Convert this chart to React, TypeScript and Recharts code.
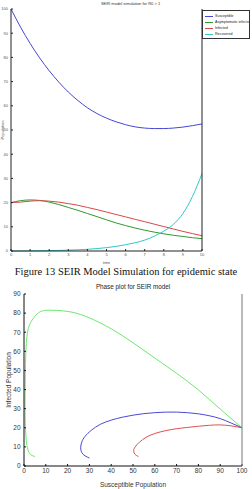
import React from "react";
import { Legend, Line, LineChart, XAxis, YAxis } from "recharts";

// --- time series (top figure) ---
const time = [0, 0.5, 1, 1.5, 2, 2.5, 3, 3.5, 4, 4.5, 5, 5.5, 6, 6.5, 7, 7.5, 8, 8.5, 9, 9.5, 10];
const susceptible = [100, 92.5, 85.8, 79.8, 74.5, 69.8, 65.7, 62.2, 59.2, 56.8, 54.9, 53.4, 52.2, 51.3, 50.8, 50.6, 50.6, 50.8, 51.2, 51.8, 52.5];
const asymptomatic = [20, 20.8, 21.1, 20.9, 20.2, 19.2, 18, 16.8, 15.5, 14.2, 12.9, 11.6, 10.5, 9.5, 8.6, 7.8, 7.1, 6.5, 6, 5.5, 5.1];
const infected = [20, 20.2, 20.6, 20.8, 20.6, 20.2, 19.6, 18.9, 18, 17.1, 16.1, 15.1, 14.1, 13.1, 12.1, 11.1, 10.1, 9.1, 8.1, 7.2, 6.3];
const recovered = [0, 0, 0.05, 0.1, 0.15, 0.25, 0.35, 0.5, 0.7, 1, 1.4, 1.9, 2.6, 3.4, 4.5, 6.1, 8.2, 11, 15.5, 22.5, 32];
const timeTicks = [0, 1, 2, 3, 4, 5, 6, 7, 8, 9, 10];
const popTicks = [0, 10, 20, 30, 40, 50, 60, 70, 80, 90, 100];
const legendOrder = ["Susceptible", "Asymptomatic infected", "Infected", "Recovered"];

// --- phase plot (bottom figure): [S, I] pairs ---
const phaseGreenS = [100, 90, 80, 70, 60, 50, 40, 30, 22, 15, 11, 8, 5.5, 3.5, 2, 1.2, 0.8, 0.6, 0.5, 0.5, 0.7, 1.2, 2, 3.2, 5];
const phaseGreenI = [20, 29.8, 39.8, 48.5, 56.5, 64.5, 71.8, 77.5, 80.5, 81.4, 81.5, 81, 79, 76, 72, 66, 58, 48, 38, 28, 19, 12, 7.8, 5.8, 5];
const phaseBlueS = [100, 95, 90, 85, 80, 75, 70, 65, 60, 55, 50, 45, 40, 35, 31, 28, 26.5, 26, 26.5, 28, 30];
const phaseBlueI = [20, 22.5, 24.8, 26.3, 27.3, 27.9, 28.2, 28.2, 27.9, 27.4, 26.6, 25.5, 24, 21.8, 18.8, 15.5, 12.5, 9.5, 7, 5.3, 4.2];
const phaseRedS = [100, 95, 90, 85, 80, 75, 70, 65, 60, 56, 53, 51, 50.3, 51, 52.5];
const phaseRedI = [20, 21, 21.5, 21.3, 20.8, 20.2, 19.5, 18.5, 17, 15, 12.5, 10, 8, 6, 5];
const sTicks = [0, 10, 20, 30, 40, 50, 60, 70, 80, 90, 100];
const iTicks = [0, 10, 20, 30, 40, 50, 60, 70, 80, 90];

const rows = time.map((t, i) => ({
  t,
  s: susceptible[i],
  a: asymptomatic[i],
  inf: infected[i],
  r: recovered[i],
}));

const toPairs = (s: number[], y: number[]) => s.map((v, i) => ({ s: v, i: y[i] }));
const greenPath = toPairs(phaseGreenS, phaseGreenI);
const bluePath = toPairs(phaseBlueS, phaseBlueI);
const redPath = toPairs(phaseRedS, phaseRedI);

const sans = '"Liberation Sans", Arial, sans-serif';

function LegendBox({ payload }: { payload?: any[] }) {
  // keep the plotting order, not the library's alphabetical one
  const items = [...(payload ?? [])].sort(
    (a, b) => legendOrder.indexOf(a.value) - legendOrder.indexOf(b.value),
  );
  return (
    <div
      style={{
        border: "1px solid #333",
        background: "#fff",
        padding: "2px 1px 1px 2px",
        fontFamily: sans,
        boxSizing: "border-box",
        width: 48,
        overflow: "hidden",
      }}
    >
      {items.map((p) => (
        <div key={p.value} style={{ display: "flex", alignItems: "center", height: 6 }}>
          <span
            style={{
              display: "inline-block",
              width: 8,
              height: 0,
              borderTop: `1px solid ${p.color}`,
              marginRight: 2,
              flexShrink: 0,
            }}
          />
          <span style={{ fontSize: 3.6, color: "#222", whiteSpace: "nowrap" }}>{p.value}</span>
        </div>
      ))}
    </div>
  );
}

export default function App() {
  return (
    <div style={{ position: "absolute", left: 0, top: 0, width: 252, height: 489, background: "#fff" }}>
      <div
        style={{
          position: "absolute",
          top: 1,
          left: 11,
          width: 239,
          textAlign: "center",
          fontFamily: sans,
          fontSize: 4,
          color: "#333",
        }}
      >
        SEIR model simulation for R0 &gt; 1
      </div>
      <div style={{ position: "absolute", top: 0, left: 0 }}>
        <LineChart width={252} height={268} data={rows} margin={{ top: 9, right: 1, left: 0, bottom: 0 }}>
          <XAxis
            xAxisId="b"
            dataKey="t"
            type="number"
            domain={[0, 10]}
            ticks={timeTicks}
            interval={0}
            height={17}
            tickSize={-2}
            tickMargin={4.6}
            stroke="#222"
            tick={{ fontSize: 4, fill: "#555", fontFamily: sans }}
            label={{ value: "time", position: "insideBottom", offset: 4, fontSize: 4, fill: "#555", fontFamily: sans }}
          />
          <XAxis xAxisId="t" orientation="top" dataKey="t" type="number" domain={[0, 10]} ticks={timeTicks} interval={0} height={0} tickSize={-2} tick={false} stroke="#222" />
          <YAxis
            yAxisId="l"
            type="number"
            domain={[0, 100]}
            ticks={popTicks}
            interval={0}
            width={11}
            tickSize={-2}
            tickMargin={5}
            stroke="#222"
            tick={{ fontSize: 4, fill: "#555", fontFamily: sans }}
            label={{ value: "Population", angle: -90, position: "center", dx: -3, fontSize: 4, fill: "#555", fontFamily: sans }}
          />
          <YAxis yAxisId="r" orientation="right" type="number" domain={[0, 100]} ticks={popTicks} interval={0} width={1} tickSize={-2} tick={false} stroke="#222" />
          <Legend
            layout="horizontal"
            verticalAlign="middle"
            align="right"
            wrapperStyle={{ top: 10, left: 202, width: 48, right: "auto", bottom: "auto" }}
            content={(props: any) => <LegendBox payload={props.payload} />}
          />
          <Line xAxisId="b" yAxisId="l" name="Susceptible" dataKey="s" type="monotone" stroke="#4646d2" strokeWidth={1} dot={false} isAnimationActive={false} />
          <Line xAxisId="b" yAxisId="l" name="Asymptomatic infected" dataKey="a" type="monotone" stroke="#2e9a2e" strokeWidth={1} dot={false} isAnimationActive={false} />
          <Line xAxisId="b" yAxisId="l" name="Infected" dataKey="inf" type="monotone" stroke="#d84848" strokeWidth={1} dot={false} isAnimationActive={false} />
          <Line xAxisId="b" yAxisId="l" name="Recovered" dataKey="r" type="monotone" stroke="#30c8c8" strokeWidth={1} dot={false} isAnimationActive={false} />
        </LineChart>
      </div>

      <div
        style={{
          position: "absolute",
          top: 266,
          left: 0,
          width: 252,
          textAlign: "center",
          fontFamily: '"Liberation Serif", "Times New Roman", serif',
          fontSize: 10.5,
          color: "#111",
          whiteSpace: "nowrap",
        }}
      >
        Figure 13 SEIR Model Simulation for epidemic state
      </div>

      <div
        style={{
          position: "absolute",
          top: 283,
          left: 24,
          width: 218,
          textAlign: "center",
          fontFamily: sans,
          fontSize: 6.3,
          color: "#222",
        }}
      >
        Phase plot for SEIR model
      </div>
      <div style={{ position: "absolute", top: 280, left: 0 }}>
        <LineChart width={252} height={209} margin={{ top: 14, right: 9, left: 0, bottom: 0 }}>
          <XAxis
            xAxisId="b"
            dataKey="s"
            type="number"
            domain={[0, 100]}
            ticks={sTicks}
            interval={0}
            height={23}
            tickSize={-2}
            tickMargin={4.5}
            stroke="#111"
            tick={{ fontSize: 6.5, fill: "#333", fontFamily: sans }}
            label={{ value: "Susceptible Population", position: "insideBottom", offset: 2, fontSize: 6.5, fill: "#333", fontFamily: sans }}
          />
          <XAxis xAxisId="t" orientation="top" dataKey="s" type="number" domain={[0, 100]} ticks={sTicks} interval={0} height={0} tickSize={-2} tick={false} stroke="#777" />
          <YAxis
            yAxisId="l"
            dataKey="i"
            type="number"
            domain={[0, 90]}
            ticks={iTicks}
            interval={0}
            width={24}
            tickSize={-2}
            tickMargin={5.5}
            stroke="#111"
            tick={{ fontSize: 6.5, fill: "#333", fontFamily: sans }}
            label={{ value: "Infected Population", angle: -90, position: "center", dx: -3, fontSize: 6.5, fill: "#333", fontFamily: sans }}
          />
          <YAxis yAxisId="r" orientation="right" type="number" domain={[0, 90]} ticks={iTicks} interval={0} width={1} tickSize={-2} tick={false} stroke="#777" />
          <Line xAxisId="b" yAxisId="l" data={greenPath} dataKey="i" type="natural" stroke="#6ee86e" strokeWidth={1} dot={false} isAnimationActive={false} />
          <Line xAxisId="b" yAxisId="l" data={bluePath} dataKey="i" type="natural" stroke="#4a4ad8" strokeWidth={1} dot={false} isAnimationActive={false} />
          <Line xAxisId="b" yAxisId="l" data={redPath} dataKey="i" type="natural" stroke="#e05050" strokeWidth={1} dot={false} isAnimationActive={false} />
        </LineChart>
      </div>
    </div>
  );
}
